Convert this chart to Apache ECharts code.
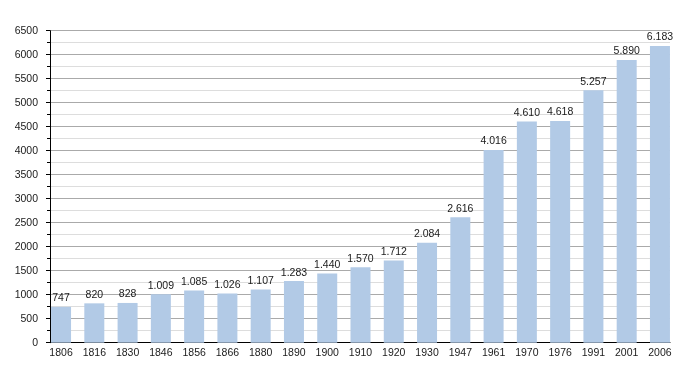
<!DOCTYPE html>
<html>
<head>
<meta charset="utf-8">
<script src="https://cdn.jsdelivr.net/npm/echarts@6/dist/echarts.min.js"></script>
<style>html,body{margin:0;padding:0;background:#fff;}#c{width:700px;height:373px;}</style>
</head>
<body>
<div id="c"></div>
<script>
const years = ['1806','1816','1830','1846','1856','1866','1880','1890','1900','1910','1920','1930','1947','1961','1970','1976','1991','2001','2006'];
const population = [747,820,828,1009,1085,1026,1107,1283,1440,1570,1712,2084,2616,4016,4610,4618,5257,5890,6183];
const yMin = 0, yMax = 6500, yStep = 500;

function fmt(v){ return String(v).replace(/\B(?=(\d{3})+(?!\d))/g, '.'); }

const FONT = 'Liberation Sans, Arial, sans-serif';
const chart = echarts.init(document.getElementById('c'), null, {renderer:'canvas'});
chart.setOption({
  animation: false,
  backgroundColor: '#fff',
  textStyle: {fontFamily: FONT},
  grid: [
    {left: 44.4, right: 23.4, top: 30.7, bottom: 30.3},
    {left: 50, right: 30, top: 30.7, bottom: 30.3}
  ],
  xAxis: [
    {
      gridIndex: 0, type: 'category', data: years,
      axisLine: {show: false}, axisTick: {show: false},
      axisLabel: {color: '#1a1a1a', fontSize: 10.5, fontFamily: FONT, margin: 5, interval: 0}
    },
    {
      gridIndex: 1, type: 'value', min: 0, max: 1,
      axisLine: {show: true, lineStyle: {color: '#000', width: 1}},
      axisTick: {show: false}, axisLabel: {show: false}, splitLine: {show: false}
    }
  ],
  yAxis: [
    {gridIndex: 0, type: 'value', min: yMin, max: yMax, interval: yStep, show: false, splitLine: {show: false}},
    {
      gridIndex: 1, type: 'value', min: yMin, max: yMax, interval: yStep,
      axisLine: {show: true, lineStyle: {color: '#000', width: 1}},
      axisTick: {show: true, length: 4, lineStyle: {color: '#000'}},
      minorTick: {show: true, splitNumber: 2, length: 3, lineStyle: {color: '#000'}},
      axisLabel: {color: '#1a1a1a', fontSize: 10.5, fontFamily: FONT, margin: 12, formatter: v => String(v)},
      splitLine: {show: true, lineStyle: {color: '#aaaaaa', width: 1}},
      minorSplitLine: {show: true, lineStyle: {color: '#dddddd', width: 1}}
    }
  ],
  series: [{
    type: 'bar', xAxisIndex: 0, yAxisIndex: 0,
    data: population, barWidth: 20,
    itemStyle: {color: '#b2cae6'},
    label: {show: true, position: 'top', distance: 3, color: '#1a1a1a', fontSize: 10.5, fontFamily: FONT,
      formatter: p => fmt(p.value)}
  }]
});
</script>
</body>
</html>
